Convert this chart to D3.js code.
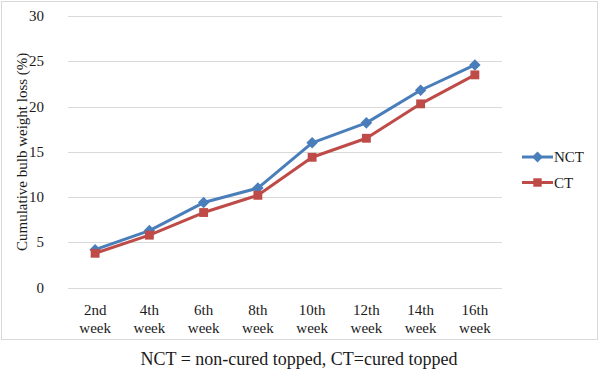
<!DOCTYPE html>
<html>
<head>
<meta charset="utf-8">
<script src="https://cdn.jsdelivr.net/npm/d3@7"></script>
<style>
  body { margin: 0; background: #fff; }
  svg text { font-family: "Liberation Serif", "Times New Roman", serif; fill: #1a1a1a; }
</style>
</head>
<body>
<svg id="chart" width="600" height="372"></svg>
<script>
// ── data ──────────────────────────────────────────────
const weeks = ['2nd week', '4th week', '6th week', '8th week', '10th week', '12th week', '14th week', '16th week'];
const nct   = [4.2, 6.3, 9.4, 11.0, 16.0, 18.2, 21.8, 24.6];
const ct    = [3.8, 5.8, 8.3, 10.2, 14.4, 16.5, 20.3, 23.5];
const yTicks = [0, 5, 10, 15, 20, 25, 30];

const series = [
  { name: 'NCT', values: nct, color: '#4a7ebb', shape: d3.symbolDiamond2 },
  { name: 'CT',  values: ct,  color: '#be4b48', shape: d3.symbolSquare2 }
];

const svg = d3.select('#chart');

// chart frame
svg.append('rect')
  .attr('x', 1.5).attr('y', 1.5)
  .attr('width', 596).attr('height', 338)
  .attr('fill', '#fff')
  .attr('stroke', '#d9d9d9');

const x = d3.scaleBand().domain(weeks).range([68, 502]);
const y = d3.scaleLinear().domain([0, 30]).range([287.7, 16]);

// grid
svg.append('g')
  .selectAll('line')
  .data(yTicks)
  .join('line')
  .attr('x1', 68).attr('x2', 502)
  .attr('y1', d => Math.round(y(d)) + 0.5)
  .attr('y2', d => Math.round(y(d)) + 0.5)
  .attr('stroke', '#d9d9d9');

// y labels
svg.append('g')
  .selectAll('text')
  .data(yTicks)
  .join('text')
  .attr('x', 44)
  .attr('y', d => y(d) + 5)
  .attr('text-anchor', 'end')
  .attr('font-size', 15)
  .text(d => d);

// x labels (two lines)
const xl = svg.append('g')
  .selectAll('text')
  .data(weeks)
  .join('text')
  .attr('text-anchor', 'middle')
  .attr('font-size', 15);
xl.append('tspan')
  .attr('x', d => x(d) + x.bandwidth() / 2)
  .attr('y', 315)
  .text(d => d.split(' ')[0]);
xl.append('tspan')
  .attr('x', d => x(d) + x.bandwidth() / 2)
  .attr('y', 333)
  .text(d => d.split(' ')[1]);

// y axis title
svg.append('text')
  .attr('transform', `translate(27,${(y(0) + y(30)) / 2}) rotate(-90)`)
  .attr('text-anchor', 'middle')
  .attr('font-size', 15)
  .text('Cumulative bulb weight loss (%)');

// lines + markers
const line = d3.line()
  .x((d, i) => x(weeks[i]) + x.bandwidth() / 2)
  .y(d => y(d));

series.forEach(s => {
  svg.append('path')
    .datum(s.values)
    .attr('d', line)
    .attr('fill', 'none')
    .attr('stroke', s.color)
    .attr('stroke-width', 3)
    .attr('stroke-linejoin', 'round');

  svg.append('g')
    .selectAll('path')
    .data(s.values)
    .join('path')
    .attr('transform', (d, i) => `translate(${x(weeks[i]) + x.bandwidth() / 2},${y(d)})`)
    .attr('d', d3.symbol().type(s.shape).size(s.name === 'NCT' ? 85 : 100))
    .attr('fill', s.color);
});

// legend
const leg = svg.append('g')
  .selectAll('g')
  .data(series)
  .join('g')
  .attr('transform', (d, i) => `translate(522,${157 + i * 25.5})`);
leg.append('line')
  .attr('x1', 0).attr('x2', 31)
  .attr('stroke', d => d.color)
  .attr('stroke-width', 3);
leg.append('path')
  .attr('transform', 'translate(15.5,0)')
  .attr('d', d => d3.symbol().type(d.shape).size(d.name === 'NCT' ? 75 : 90)())
  .attr('fill', d => d.color);
leg.append('text')
  .attr('x', 32)
  .attr('y', 5)
  .attr('font-size', 15)
  .text(d => d.name);

// footnote
svg.append('text')
  .attr('x', 299)
  .attr('y', 365)
  .attr('text-anchor', 'middle')
  .attr('font-size', 18)
  .text('NCT = non-cured topped, CT=cured topped');
</script>
</body>
</html>
